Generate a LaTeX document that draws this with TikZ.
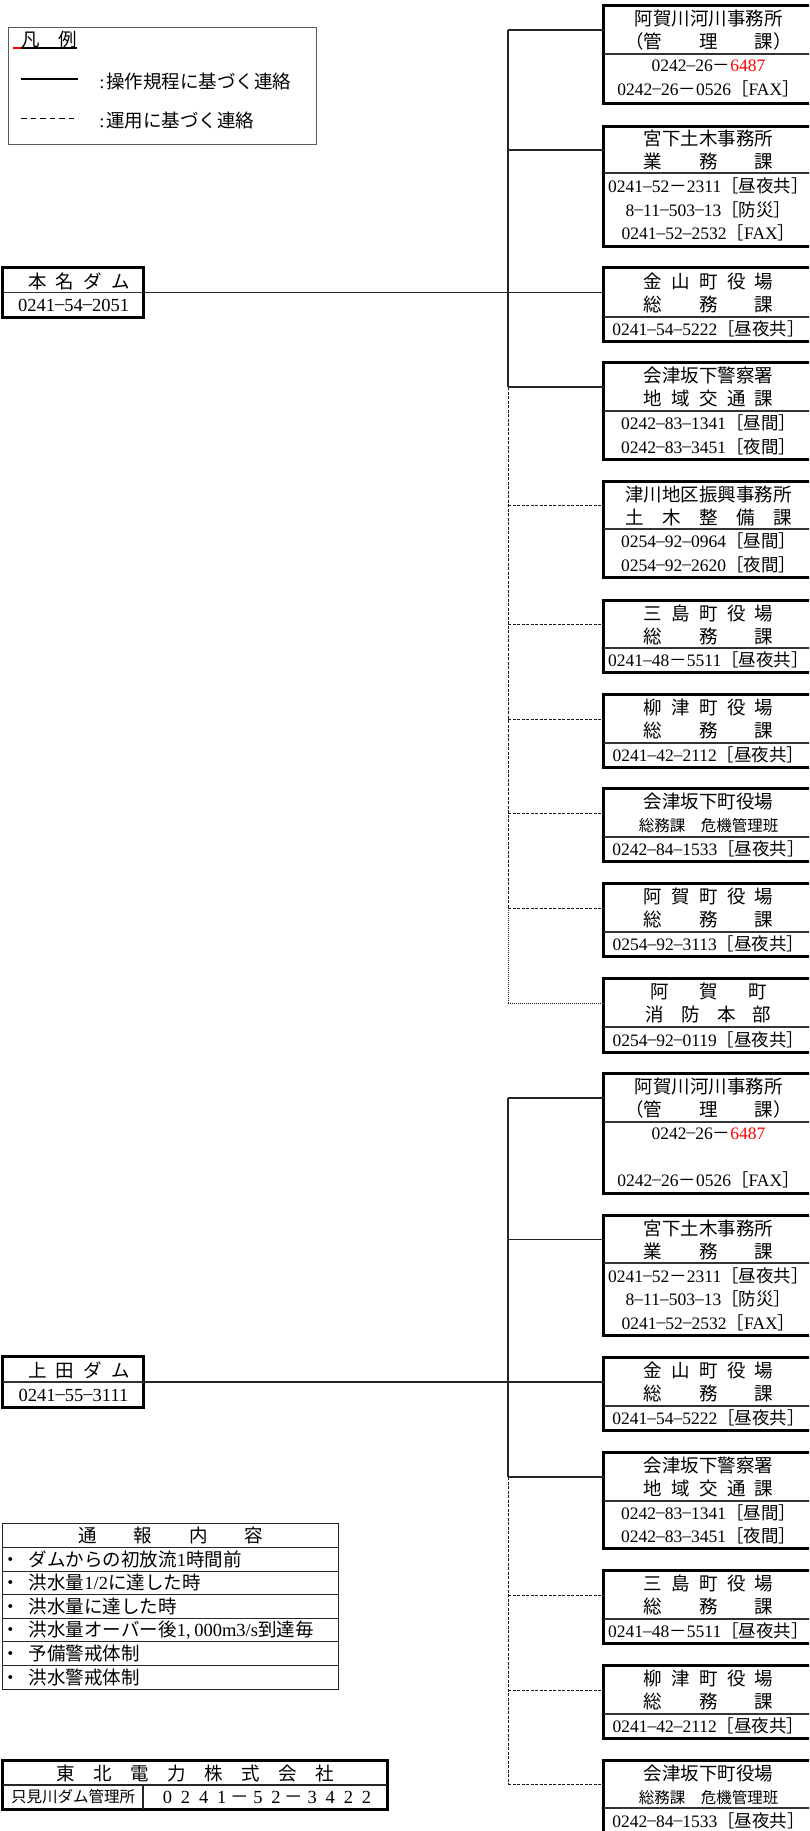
\documentclass[tikz,border=0pt]{standalone}
\usepackage{fontspec}
\setmainfont{Liberation Serif}
\newfontfamily\cjk{Noto Sans CJK JP}
\newcommand\jp[1]{{\cjk #1}}
\newcommand\hsp{\hspace{0.5em}}
\newcommand\hy{\raisebox{0.09em}{–}}
\newcommand\fd{\jp{－}}
\newcommand\br[1]{\jp{［#1］}}
\newcommand\fax{\jp{［}FAX\jp{］}}
\newcommand\fwc[1]{\makebox[18.1pt]{#1}}
\tikzset{
  conn/.style={line width=1.6pt, draw=black!85},
  dconn/.style={line width=1pt, draw=black!90, dash pattern=on 3pt off 1.5pt},
  tconn/.style={line width=1pt, draw=black!90, dash pattern=on 1pt off 1pt},
  outerline/.style={line width=3pt, draw=black},
  innerline/.style={line width=1.5pt, draw=black!80},
  thinline/.style={line width=1.2pt, draw=black!85},
  tsect/.style={minimum width=209pt, inner sep=0pt, align=center, font=\fontsize{18.5}{23}\selectfont},
  psect/.style={minimum width=209pt, inner sep=0pt, align=center, font=\fontsize{17.5}{23.5}\selectfont},
  txt/.style={inner sep=0pt, font=\fontsize{18.5}{22}\selectfont},
}
\newcommand\orgbox[6]{%
  \node[tsect, minimum height={#3-#2}] (#1t) at (708.5,{(#2+#3)/2}) {#5};
  \node[psect, minimum height={#4-#3}] (#1p) at (708.5,{(#3+#4)/2}) {#6};
  \draw[outerline] (#1t.north west) rectangle (#1p.south east);
  \draw[innerline] (#1t.south west) -- (#1t.south east);
}
\begin{document}
\begin{tikzpicture}[x=1pt,y=-1pt]
\useasboundingbox (0,0) rectangle (809,1831);
\clip (0,0) rectangle (809,1831);

% legend
\node[minimum width=307pt, minimum height=116pt, inner sep=0pt] (legend) at (162.5,86) {};
\draw[line width=1pt, draw=black!65] (legend.north west) rectangle (legend.south east);
\node[txt, anchor=west] (lgt) at (21,40) {\jp{凡　例}};
\draw[line width=1.5pt, red] (13,48) -- (21,48);
\draw[line width=1.5pt] (21,48) -- (77,48);
\draw[line width=1.8pt] (21,79) -- (78,79);
\node[txt, anchor=west] (lg1) at (97,81) {\makebox[0.5em]{:}\jp{操作規程に基づく連絡}};
\draw[line width=1pt, dash pattern=on 5.5pt off 4pt] (21,118) -- (78,118);
\node[txt, anchor=west] (lg2) at (97,121) {\makebox[0.5em]{:}\jp{運用に基づく連絡}};

% dam boxes
\node[minimum width=140pt, minimum height=49pt, inner sep=0pt] (honna) at (73,292.5) {};
\draw[outerline] (honna.north west) rectangle (honna.south east);
\draw[innerline] (honna.west) -- (honna.east);
\node[txt] (honnaN) at (79,281) {\jp{本\hsp 名\hsp ダ\hsp ム}};
\node[txt] (honnaP) at (73.5,305.5) {0241\hy 54\hy 2051};

\node[minimum width=140pt, minimum height=50pt, inner sep=0pt] (ueda) at (73,1382) {};
\draw[outerline] (ueda.north west) rectangle (ueda.south east);
\draw[innerline] (ueda.west) -- (ueda.east);
\node[txt] (uedaN) at (79,1370) {\jp{上\hsp 田\hsp ダ\hsp ム}};
\node[txt] (uedaP) at (73.5,1395) {0241\hy 55\hy 3111};

% organisation boxes, group 1
\orgbox{b1}{6}{54}{103}{\jp{阿賀川河川事務所}\\\jp{（管　　理　　課）}}{0242\hy 26\fd{\color{red}6487}\\0242\hy 26\fd 0526\fax}
\orgbox{b2}{127}{173}{246}{\jp{宮下土木事務所}\\\jp{業　　務　　課}}{0241\hy 52\fd 2311\br{昼夜共}\\8\hy 11\hy 503\hy 13\br{防災}\\0241\hy 52\hy 2532\fax}
\orgbox{b3}{268}{317}{341}{\jp{金\hsp 山\hsp 町\hsp 役\hsp 場}\\\jp{総　　務　　課}}{0241\hy 54\hy 5222\br{昼夜共}}
\orgbox{b4}{363}{411}{459}{\jp{会津坂下警察署}\\\jp{地\hsp 域\hsp 交\hsp 通\hsp 課}}{0242\hy 83\hy 1341\br{昼間}\\0242\hy 83\hy 3451\br{夜間}}
\orgbox{b5}{482}{529}{577}{\jp{津川地区振興事務所}\\\jp{土　木　整　備　課}}{0254\hy 92\hy 0964\br{昼間}\\0254\hy 92\hy 2620\br{夜間}}
\orgbox{b6}{601}{648}{672}{\jp{三\hsp 島\hsp 町\hsp 役\hsp 場}\\\jp{総　　務　　課}}{0241\hy 48\fd 5511\br{昼夜共}}
\orgbox{b7}{695}{743}{767}{\jp{柳\hsp 津\hsp 町\hsp 役\hsp 場}\\\jp{総　　務　　課}}{0241\hy 42\hy 2112\br{昼夜共}}
\orgbox{b8}{789}{837}{861}{\jp{会津坂下町役場}\\{\fontsize{15.5}{23}\selectfont\jp{総務課　危機管理班}}}{0242\hy 84\hy 1533\br{昼夜共}}
\orgbox{b9}{884}{932}{956}{\jp{阿\hsp 賀\hsp 町\hsp 役\hsp 場}\\\jp{総　　務　　課}}{0254\hy 92\hy 3113\br{昼夜共}}
\orgbox{b10}{979}{1027}{1052}{\jp{阿\hspace{1.65em}賀\hspace{1.65em}町}\\\jp{消\hspace{0.93em}防\hspace{0.93em}本\hspace{0.93em}部}}{0254\hy 92\hy 0119\br{昼夜共}}

% group 2
\orgbox{b11}{1074}{1122}{1193}{\jp{阿賀川河川事務所}\\\jp{（管　　理　　課）}}{0242\hy 26\fd{\color{red}6487}\\\mbox{}\\0242\hy 26\fd 0526\fax}
\orgbox{b12}{1216}{1263}{1335}{\jp{宮下土木事務所}\\\jp{業　　務　　課}}{0241\hy 52\fd 2311\br{昼夜共}\\8\hy 11\hy 503\hy 13\br{防災}\\0241\hy 52\hy 2532\fax}
\orgbox{b13}{1358}{1406}{1430}{\jp{金\hsp 山\hsp 町\hsp 役\hsp 場}\\\jp{総　　務　　課}}{0241\hy 54\hy 5222\br{昼夜共}}
\orgbox{b14}{1453}{1501}{1548}{\jp{会津坂下警察署}\\\jp{地\hsp 域\hsp 交\hsp 通\hsp 課}}{0242\hy 83\hy 1341\br{昼間}\\0242\hy 83\hy 3451\br{夜間}}
\orgbox{b15}{1571}{1619}{1643}{\jp{三\hsp 島\hsp 町\hsp 役\hsp 場}\\\jp{総　　務　　課}}{0241\hy 48\fd 5511\br{昼夜共}}
\orgbox{b16}{1666}{1714}{1738}{\jp{柳\hsp 津\hsp 町\hsp 役\hsp 場}\\\jp{総　　務　　課}}{0241\hy 42\hy 2112\br{昼夜共}}
\orgbox{b17}{1761}{1808}{1833}{\jp{会津坂下町役場}\\{\fontsize{15.5}{23}\selectfont\jp{総務課　危機管理班}}}{0242\hy 84\hy 1533\br{昼夜共}}

% trunk junctions
\coordinate (tx) at (508,0);
\coordinate (j1) at (b1t.west -| tx);
\coordinate (j2) at (b2t.west -| tx);
\coordinate (j3) at (b3t.west -| tx);
\coordinate (j4) at (b4t.west -| tx);
\coordinate (j5) at (b5t.west -| tx);
\coordinate (j6) at (b6t.west -| tx);
\coordinate (j7) at (b7t.west -| tx);
\coordinate (j8) at (b8t.west -| tx);
\coordinate (j9) at (b9t.west -| tx);
\coordinate (j10) at (b10t.west -| tx);
\coordinate (j11) at (b11t.west -| tx);
\coordinate (j12) at (b12t.west -| tx);
\coordinate (j13) at (b13t.west -| tx);
\coordinate (j14) at (b14t.west -| tx);
\coordinate (j15) at (b15t.west -| tx);
\coordinate (j16) at (b16t.west -| tx);
\coordinate (j17) at (b17t.west -| tx);

% connectors group 1
\draw[conn] (honna.east) -- (j3);
\draw[conn] (j1) -- (j4);
\draw[dconn] (j4) -- (j9);
\draw[tconn] (j9) -- (j10);
\draw[conn] (j1) -- (b1t.west);
\draw[conn] (j2) -- (b2t.west);
\draw[conn] (j3) -- (b3t.west);
\draw[conn] (j4) -- (b4t.west);
\draw[dconn] (j5) -- (b5t.west);
\draw[dconn] (j6) -- (b6t.west);
\draw[dconn] (j7) -- (b7t.west);
\draw[dconn] (j8) -- (b8t.west);
\draw[dconn] (j9) -- (b9t.west);
\draw[tconn] (j10) -- (b10t.west);

% connectors group 2
\draw[conn] (ueda.east) -- (j13);
\draw[conn] (j11) -- (j14);
\draw[dconn] (j14) -- (j17);
\draw[conn] (j11) -- (b11t.west);
\draw[conn] (j12) -- (b12t.west);
\draw[conn] (j13) -- (b13t.west);
\draw[conn] (j14) -- (b14t.west);
\draw[dconn] (j15) -- (b15t.west);
\draw[dconn] (j16) -- (b16t.west);
\draw[dconn] (j17) -- (b17t.west);

% notification table
\node[minimum width=335pt, minimum height=165pt, inner sep=0pt] (tsu) at (170.5,1606.5) {};
\draw[thinline] (tsu.north west) rectangle (tsu.south east);
\foreach \yy in {1547.57,1571.14,1594.71,1618.29,1641.86,1665.43}
  \draw[thinline] (3,\yy) -- (338,\yy);
\node[txt] (tsuH) at (170.5,1535.8) {\jp{通　　報　　内　　容}};
\node[txt, anchor=west] (r1) at (1,1559.4) {\jp{・}\hspace{0.5em}\jp{ダムからの初放流}1\jp{時間前}};
\node[txt, anchor=west] (r2) at (1,1582.9) {\jp{・}\hspace{0.5em}\jp{洪水量}1/2\jp{に達した時}};
\node[txt, anchor=west] (r3) at (1,1606.5) {\jp{・}\hspace{0.5em}\jp{洪水量に達した時}};
\node[txt, anchor=west] (r4) at (1,1630.1) {\jp{・}\hspace{0.5em}\jp{洪水量オーバー後}1,\hspace{0.2em}000m3/s\jp{到達毎}};
\node[txt, anchor=west] (r5) at (1,1653.6) {\jp{・}\hspace{0.5em}\jp{予備警戒体制}};
\node[txt, anchor=west] (r6) at (1,1677.2) {\jp{・}\hspace{0.5em}\jp{洪水警戒体制}};

% Tohoku table
\node[minimum width=384pt, minimum height=48pt, inner sep=0pt] (toh) at (195,1785) {};
\draw[outerline] (toh.north west) rectangle (toh.south east);
\draw[thinline] (toh.west) -- (toh.east);
\draw[thinline] (143,1785) -- (143,1809);
\node[txt] (tohH) at (195,1773) {\jp{東　北　電　力　株　式　会　社}};
\node[txt, font=\fontsize{15.5}{18}\selectfont] (tohL) at (73,1797) {\jp{只見川ダム管理所}};
\node[txt] (tohR) at (267,1797) {\fwc0\fwc2\fwc4\fwc1\fwc{\jp{－}}\fwc5\fwc2\fwc{\jp{－}}\fwc3\fwc4\fwc2\fwc2};
\end{tikzpicture}
\end{document}
